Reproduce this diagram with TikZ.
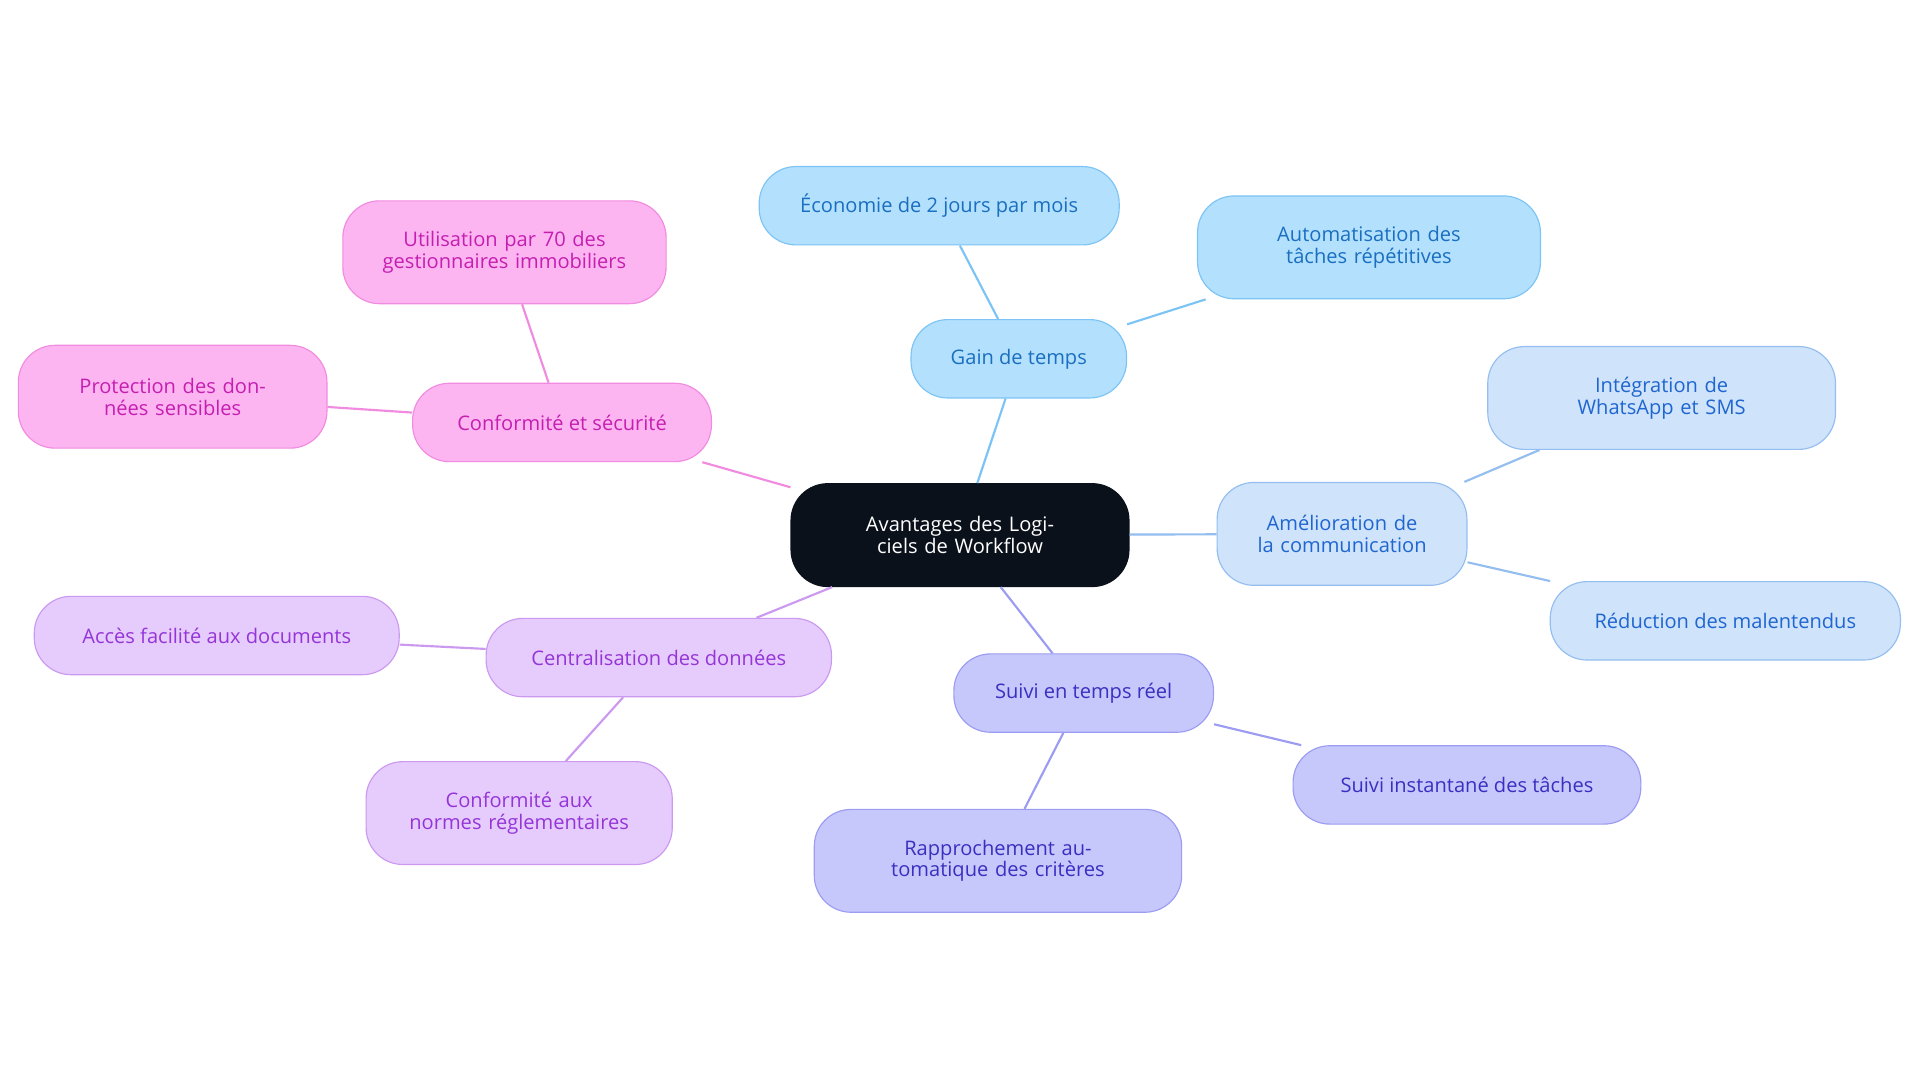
\documentclass[tikz,border=0pt]{standalone}
\usepackage{fontspec}
\setmainfont{Open Sans}
\definecolor{rootfill}{HTML}{0B111B}
\definecolor{gainfill}{HTML}{B3E0FD}\definecolor{gainline}{HTML}{7CC4F5}\definecolor{gaintext}{HTML}{1A6FC0}
\definecolor{commfill}{HTML}{CFE3FB}\definecolor{commline}{HTML}{94BEEF}\definecolor{commtext}{HTML}{1F66D0}
\definecolor{suivfill}{HTML}{C6C8FC}\definecolor{suivline}{HTML}{9B9CF2}\definecolor{suivtext}{HTML}{3B2FC0}
\definecolor{centfill}{HTML}{E6CCFC}\definecolor{centline}{HTML}{CC99F0}\definecolor{centtext}{HTML}{9535D8}
\definecolor{confill}{HTML}{FDB5F2}\definecolor{conline}{HTML}{F08BE0}\definecolor{context}{HTML}{C51FB0}
\tikzset{
  box/.style={rectangle, rounded corners=30*0.03cm, draw, line width=0.8pt, align=center, font=\fontsize{14}{15}\selectfont, inner sep=2pt},
  gain/.style={box, fill=gainfill, draw=gainline, text=gaintext},
  comm/.style={box, fill=commfill, draw=commline, text=commtext},
  suiv/.style={box, fill=suivfill, draw=suivline, text=suivtext},
  cent/.style={box, fill=centfill, draw=centline, text=centtext},
  conf/.style={box, fill=confill, draw=conline, text=context},
  link/.style={line width=1.5pt}
}
\begin{document}
\begin{tikzpicture}[x=0.03cm, y=-0.03cm]
  \useasboundingbox (0,0) rectangle (1568,884);
  % Nodes
  \node (root) [box, fill=rootfill, draw=rootfill, text=white, minimum width=276*0.03cm, minimum height=84*0.03cm, text width=230*0.03cm] at (784,437) {Avantages des Logiciels de Workflow};
  \node (gain) [gain, minimum width=176*0.03cm, minimum height=64*0.03cm] at (832,293) {Gain de temps};
  \node (economie) [gain, minimum width=294*0.03cm, minimum height=64*0.03cm] at (767,168) {Économie de 2 jours par mois};
  \node (automat) [gain, minimum width=280*0.03cm, minimum height=84*0.03cm, text width=240*0.03cm] at (1118,202) {Automatisation des tâches répétitives};
  \node (comm) [comm, minimum width=204*0.03cm, minimum height=84*0.03cm, text width=170*0.03cm] at (1096,436) {Amélioration de la communication};
  \node (integr) [comm, minimum width=284*0.03cm, minimum height=84*0.03cm, text width=244*0.03cm] at (1357,325) {Intégration de WhatsApp et SMS};
  \node (reduc) [comm, minimum width=286*0.03cm, minimum height=64*0.03cm] at (1409,507) {Réduction des malentendus};
  \node (suivi) [suiv, minimum width=212*0.03cm, minimum height=64*0.03cm] at (885,566) {Suivi en temps réel};
  \node (instant) [suiv, minimum width=284*0.03cm, minimum height=64*0.03cm] at (1198,641) {Suivi instantané des tâches};
  \node (rappro) [suiv, minimum width=300*0.03cm, minimum height=84*0.03cm, text width=260*0.03cm] at (815,703) {Rapprochement automatique des critères};
  \node (central) [cent, minimum width=282*0.03cm, minimum height=64*0.03cm] at (538,537) {Centralisation des données};
  \node (acces) [cent, minimum width=298*0.03cm, minimum height=64*0.03cm] at (177,519) {Accès facilité aux documents};
  \node (normes) [cent, minimum width=250*0.03cm, minimum height=84*0.03cm, text width=210*0.03cm] at (424,664) {Conformité aux normes réglementaires};
  \node (secur) [conf, minimum width=244*0.03cm, minimum height=64*0.03cm] at (459,345) {Conformité et sécurité};
  \node (utilis) [conf, minimum width=264*0.03cm, minimum height=84*0.03cm, text width=230*0.03cm] at (412,206) {Utilisation par 70 des gestionnaires immobiliers};
  \node (protec) [conf, minimum width=252*0.03cm, minimum height=84*0.03cm, text width=210*0.03cm] at (141,324) {Protection des données sensibles};
  % Links
  \begin{scope}[on background layer/.style={}]
  \draw[link, gainline] (root) -- (gain);
  \draw[link, gainline] (gain) -- (economie);
  \draw[link, gainline] (gain) -- (automat);
  \draw[link, commline] (root) -- (comm);
  \draw[link, commline] (comm) -- (integr);
  \draw[link, commline] (comm) -- (reduc);
  \draw[link, suivline] (root) -- (suivi);
  \draw[link, suivline] (suivi) -- (instant);
  \draw[link, suivline] (suivi) -- (rappro);
  \draw[link, centline] (root) -- (central);
  \draw[link, centline] (central) -- (acces);
  \draw[link, centline] (central) -- (normes);
  \draw[link, conline] (root) -- (secur);
  \draw[link, conline] (secur) -- (utilis);
  \draw[link, conline] (secur) -- (protec);
  \end{scope}
\end{tikzpicture}
\end{document}
